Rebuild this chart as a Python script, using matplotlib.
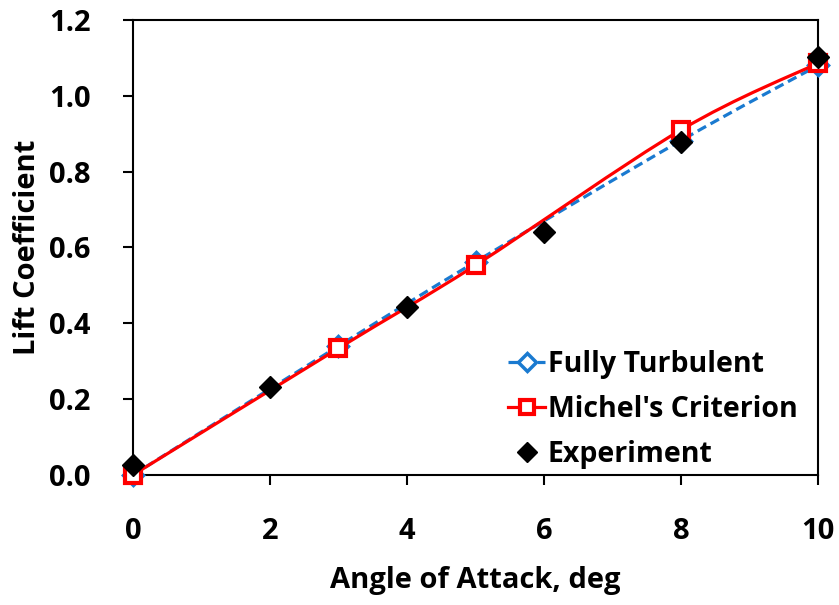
import numpy as np
import matplotlib.pyplot as plt
from matplotlib.path import Path
from matplotlib.patches import PathPatch
from matplotlib.lines import Line2D

plt.rcParams['font.family'] = ['Open Sans', 'DejaVu Sans']
plt.rcParams['font.weight'] = 'bold'

# data
alpha_cfd = [0, 3, 5, 8, 10]
cl_turb = [0.0, 0.340, 0.562, 0.882, 1.080]
cl_michel = [0.0, 0.334, 0.553, 0.910, 1.086]

alpha_exp = [0, 2, 4, 6, 8, 10]
cl_exp = [0.026, 0.232, 0.443, 0.641, 0.879, 1.103]


def smooth_path(x, y, t=1/6.):
    # Excel-like smoothed line: cubic bezier segments through the points
    x = np.asarray(x, float)
    y = np.asarray(y, float)
    verts = [(x[0], y[0])]
    codes = [Path.MOVETO]
    n = len(x)
    for i in range(n - 1):
        x0, y0 = (x[i - 1], y[i - 1]) if i > 0 else (x[i], y[i])
        x3, y3 = (x[i + 2], y[i + 2]) if i + 2 < n else (x[i + 1], y[i + 1])
        c1 = (x[i] + (x[i + 1] - x0) * t, y[i] + (y[i + 1] - y0) * t)
        c2 = (x[i + 1] - (x3 - x[i]) * t, y[i + 1] - (y3 - y[i]) * t)
        verts += [c1, c2, (x[i + 1], y[i + 1])]
        codes += [Path.CURVE4] * 3
    return Path(verts, codes)


fig, ax = plt.subplots(figsize=(8.39, 6.05), dpi=100)
fig.subplots_adjust(left=0.1585, right=0.975, top=0.967, bottom=0.215)

blue = '#1a7ad0'
red = '#ff0000'

ax.add_patch(PathPatch(smooth_path(alpha_cfd, cl_turb), fill=False,
                       edgecolor=blue, lw=2.3, ls=(0, (3, 1.6)), zorder=2))
ax.plot(alpha_cfd, cl_turb, ls='none', marker='D', ms=10, mfc='white',
        mec=blue, mew=2.5, zorder=3, clip_on=False)

ax.add_patch(PathPatch(smooth_path(alpha_cfd, cl_michel), fill=False,
                       edgecolor=red, lw=2.3, zorder=4))
ax.plot(alpha_cfd, cl_michel, ls='none', marker='s', ms=12, mfc='white',
        mec=red, mew=3, zorder=5, clip_on=False)

ax.plot(alpha_exp, cl_exp, ls='none', marker='D', ms=11, color='black',
        zorder=6, clip_on=False)

ax.set_xlim(0, 10)
ax.set_ylim(0, 1.2)
ax.set_xticks(range(0, 11, 2))
ax.set_yticks(np.arange(0, 1.21, 0.2))
ax.yaxis.set_major_formatter(plt.FormatStrFormatter('%.1f'))
ax.tick_params(direction='out', length=7.5, width=1.5, labelsize=21)
ax.tick_params(axis='x', pad=23)
ax.tick_params(axis='y', pad=23)
for s in ax.spines.values():
    s.set_linewidth(1.5)

ax.set_xlabel('Angle of Attack, deg', fontsize=21, fontweight='bold', labelpad=14)
ax.set_ylabel('Lift Coefficient', fontsize=21, fontweight='bold', labelpad=5)

handles = [
    Line2D([], [], color=blue, lw=2.3, ls=(0, (3, 1.6)), marker='D', ms=9,
           mfc='white', mec=blue, mew=2.5),
    Line2D([], [], color=red, lw=2.3, marker='s', ms=10, mfc='white',
           mec=red, mew=3),
    Line2D([], [], ls='none', marker='D', ms=10, color='black'),
]
ax.legend(handles, ['Fully Turbulent', "Michel's Criterion", 'Experiment'],
          loc='upper left', bbox_to_anchor=(508 / 839, 1 - 350 / 605),
          bbox_transform=fig.transFigure, frameon=False, fontsize=20.5,
          handlelength=1.3, handletextpad=0.1, labelspacing=0.56,
          borderpad=0, borderaxespad=0)

for lab in ax.get_xticklabels() + ax.get_yticklabels():
    lab.set_fontweight('bold')

fig.savefig('out.png', dpi=100)
